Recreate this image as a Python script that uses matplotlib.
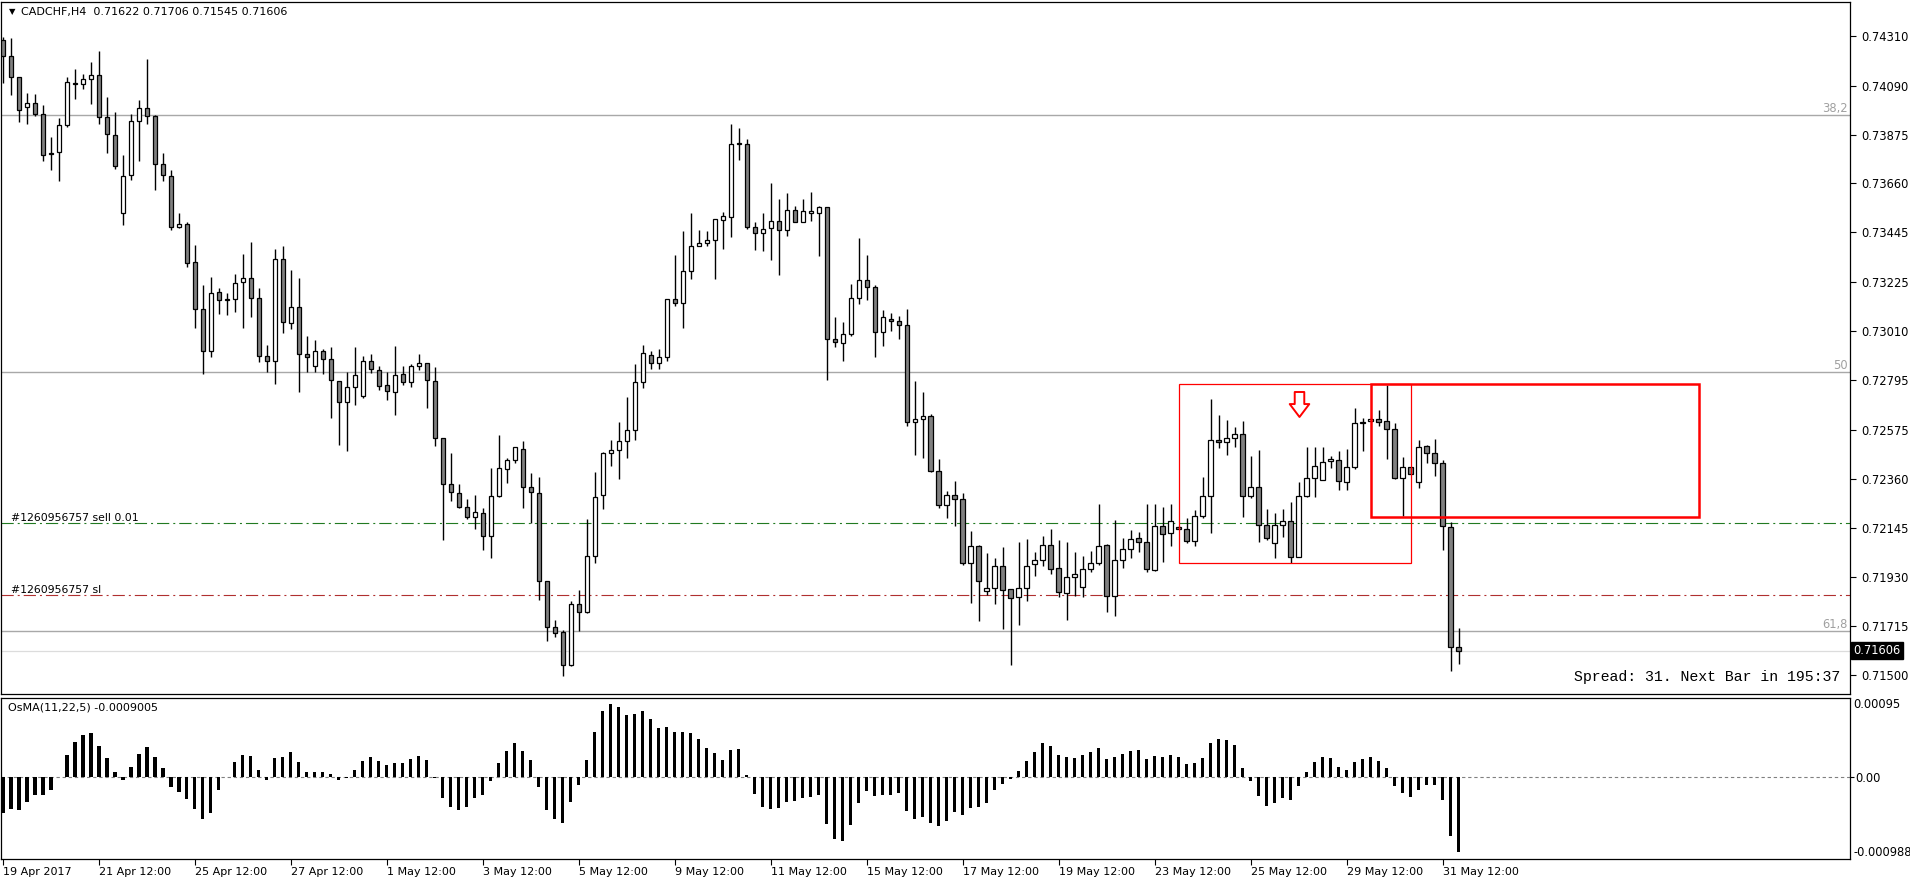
import matplotlib
matplotlib.use('Agg')
import matplotlib.pyplot as plt
import matplotlib.transforms as mtransforms
from matplotlib.path import Path
from matplotlib.patches import Rectangle
import numpy as np

# ---------------- data ----------------
header_symbol = "CADCHF,H4"
header_ohlc = "0.71622 0.71706 0.71545 0.71606"

opens = [0.74290, 0.74220, 0.74129, 0.73996, 0.74014, 0.73965, 0.73792, 0.73798, 0.73916, 0.74104,
         0.74098, 0.74118, 0.74135, 0.73951, 0.73875, 0.73528, 0.73698, 0.73934, 0.73990, 0.73957,
         0.73745, 0.73692, 0.73469, 0.73483, 0.73314, 0.73106, 0.72922, 0.73183, 0.73146, 0.73150,
         0.73228, 0.73246, 0.73157, 0.72901, 0.72881, 0.73326, 0.73048, 0.73118, 0.72908, 0.72859,
         0.72924, 0.72887, 0.72793, 0.72699, 0.72765, 0.72726, 0.72881, 0.72840, 0.72773, 0.72742,
         0.72822, 0.72789, 0.72859, 0.72871, 0.72793, 0.72540, 0.72338, 0.72297, 0.72236, 0.72195,
         0.72213, 0.72109, 0.72285, 0.72403, 0.72444, 0.72493, 0.72324, 0.72297, 0.71911, 0.71711,
         0.71687, 0.71542, 0.71809, 0.71776, 0.72024, 0.72291, 0.72473, 0.72487, 0.72526, 0.72575,
         0.72785, 0.72906, 0.72869, 0.72895, 0.73153, 0.73136, 0.73277, 0.73383, 0.73398, 0.73412,
         0.73500, 0.73514, 0.73836, 0.73834, 0.73469, 0.73443, 0.73465, 0.73494, 0.73455, 0.73543,
         0.73492, 0.73532, 0.73532, 0.73557, 0.72977, 0.72959, 0.72999, 0.73157, 0.73236, 0.73204,
         0.73008, 0.73065, 0.73057, 0.73038, 0.72609, 0.72624, 0.72638, 0.72397, 0.72244, 0.72289,
         0.72273, 0.71989, 0.72066, 0.71866, 0.71881, 0.71977, 0.71875, 0.71840, 0.71879, 0.71985,
         0.72005, 0.72070, 0.71968, 0.71858, 0.71928, 0.71885, 0.71964, 0.71989, 0.72070, 0.71844,
         0.72003, 0.72054, 0.72099, 0.72085, 0.71962, 0.72152, 0.72124, 0.72150, 0.72142, 0.72087,
         0.72199, 0.72287, 0.72532, 0.72522, 0.72542, 0.72558, 0.72287, 0.72326, 0.72156, 0.72077,
         0.72156, 0.72177, 0.72019, 0.72287, 0.72365, 0.72354, 0.72440, 0.72442, 0.72346, 0.72414,
         0.72605, 0.72617, 0.72626, 0.72616, 0.72581, 0.72365, 0.72414, 0.72346, 0.72505, 0.72473,
         0.72432, 0.72150, 0.71622]
highs = [0.74302, 0.74300, 0.74129, 0.74057, 0.74053, 0.74004, 0.73865, 0.73949, 0.74129, 0.74165,
         0.74141, 0.74194, 0.74243, 0.74039, 0.73975, 0.73783, 0.73967, 0.74028, 0.74206, 0.73961,
         0.73794, 0.73720, 0.73528, 0.73489, 0.73391, 0.73212, 0.73248, 0.73202, 0.73177, 0.73263,
         0.73349, 0.73404, 0.73202, 0.72950, 0.73373, 0.73387, 0.73281, 0.73244, 0.72989, 0.72973,
         0.72934, 0.72942, 0.72793, 0.72832, 0.72942, 0.72901, 0.72910, 0.72859, 0.72832, 0.72944,
         0.72859, 0.72865, 0.72908, 0.72871, 0.72852, 0.72542, 0.72473, 0.72338, 0.72271, 0.72291,
         0.72232, 0.72409, 0.72556, 0.72452, 0.72499, 0.72526, 0.72385, 0.72369, 0.71911, 0.71742,
         0.71697, 0.71825, 0.71872, 0.72185, 0.72391, 0.72479, 0.72530, 0.72610, 0.72720, 0.72865,
         0.72948, 0.72922, 0.72934, 0.73153, 0.73344, 0.73449, 0.73532, 0.73457, 0.73449, 0.73504,
         0.73536, 0.73922, 0.73906, 0.73855, 0.73492, 0.73528, 0.73663, 0.73592, 0.73616, 0.73559,
         0.73592, 0.73624, 0.73561, 0.73557, 0.73071, 0.73053, 0.73220, 0.73422, 0.73347, 0.73214,
         0.73102, 0.73091, 0.73079, 0.73106, 0.72791, 0.72744, 0.72648, 0.72448, 0.72307, 0.72352,
         0.72299, 0.72130, 0.72072, 0.72034, 0.72013, 0.72062, 0.71875, 0.72083, 0.72097, 0.72038,
         0.72111, 0.72140, 0.72091, 0.72083, 0.72040, 0.72022, 0.72046, 0.72250, 0.72073, 0.72179,
         0.72101, 0.72134, 0.72126, 0.72250, 0.72250, 0.72236, 0.72252, 0.72154, 0.72189, 0.72222,
         0.72371, 0.72714, 0.72644, 0.72620, 0.72591, 0.72614, 0.72460, 0.72487, 0.72228, 0.72211,
         0.72228, 0.72258, 0.72346, 0.72499, 0.72499, 0.72499, 0.72460, 0.72483, 0.72491, 0.72671,
         0.72630, 0.72628, 0.72663, 0.72773, 0.72605, 0.72456, 0.72414, 0.72534, 0.72511, 0.72538,
         0.72444, 0.72170, 0.71706]
lows = [0.74100, 0.74051, 0.73930, 0.73920, 0.73955, 0.73757, 0.73718, 0.73671, 0.73908, 0.74033,
        0.74077, 0.74008, 0.73920, 0.73792, 0.73722, 0.73477, 0.73675, 0.73757, 0.73920, 0.73630,
        0.73671, 0.73457, 0.73466, 0.73293, 0.73024, 0.72820, 0.72895, 0.73087, 0.73081, 0.73097,
        0.73026, 0.73071, 0.72875, 0.72830, 0.72777, 0.73003, 0.73020, 0.72742, 0.72830, 0.72830,
        0.72824, 0.72630, 0.72509, 0.72483, 0.72685, 0.72718, 0.72826, 0.72754, 0.72708, 0.72644,
        0.72775, 0.72763, 0.72840, 0.72671, 0.72507, 0.72091, 0.72264, 0.72234, 0.72183, 0.72140,
        0.72048, 0.72013, 0.72281, 0.72344, 0.72432, 0.72234, 0.72168, 0.71828, 0.71648, 0.71664,
        0.71495, 0.71538, 0.71691, 0.71772, 0.71989, 0.72230, 0.72418, 0.72360, 0.72454, 0.72530,
        0.72761, 0.72844, 0.72844, 0.72879, 0.73122, 0.73024, 0.73240, 0.73383, 0.73387, 0.73240,
        0.73371, 0.73424, 0.73763, 0.73459, 0.73369, 0.73363, 0.73324, 0.73257, 0.73428, 0.73489,
        0.73490, 0.73494, 0.73342, 0.72797, 0.72942, 0.72879, 0.72989, 0.73130, 0.73146, 0.72897,
        0.72946, 0.73012, 0.72977, 0.72595, 0.72467, 0.72454, 0.72393, 0.72234, 0.72191, 0.72154,
        0.71983, 0.71817, 0.71734, 0.71850, 0.71809, 0.71699, 0.71542, 0.71719, 0.71826, 0.71936,
        0.71977, 0.71942, 0.71840, 0.71742, 0.71844, 0.71840, 0.71950, 0.71983, 0.71776, 0.71756,
        0.71968, 0.72015, 0.72040, 0.71950, 0.71958, 0.71997, 0.72068, 0.72140, 0.72081, 0.72068,
        0.72189, 0.72124, 0.72497, 0.72467, 0.72503, 0.72193, 0.72275, 0.72085, 0.72091, 0.72011,
        0.72105, 0.71993, 0.72019, 0.72281, 0.72283, 0.72354, 0.72411, 0.72314, 0.72314, 0.72405,
        0.72483, 0.72615, 0.72595, 0.72450, 0.72360, 0.72199, 0.72381, 0.72320, 0.72430, 0.72373,
        0.72048, 0.71517, 0.71545]
closes = [0.74220, 0.74129, 0.73984, 0.74014, 0.73965, 0.73785, 0.73790, 0.73916, 0.74106, 0.74098,
          0.74118, 0.74139, 0.73951, 0.73877, 0.73737, 0.73692, 0.73934, 0.73990, 0.73957, 0.73745,
          0.73696, 0.73469, 0.73483, 0.73312, 0.73106, 0.72922, 0.73179, 0.73146, 0.73153, 0.73222,
          0.73246, 0.73157, 0.72903, 0.72881, 0.73326, 0.73053, 0.73118, 0.72908, 0.72899, 0.72924,
          0.72887, 0.72795, 0.72699, 0.72765, 0.72818, 0.72881, 0.72842, 0.72771, 0.72746, 0.72816,
          0.72785, 0.72859, 0.72871, 0.72795, 0.72540, 0.72338, 0.72303, 0.72236, 0.72195, 0.72215,
          0.72109, 0.72285, 0.72411, 0.72444, 0.72499, 0.72324, 0.72303, 0.71911, 0.71711, 0.71683,
          0.71542, 0.71809, 0.71776, 0.72024, 0.72281, 0.72473, 0.72487, 0.72526, 0.72575, 0.72785,
          0.72916, 0.72869, 0.72895, 0.73153, 0.73136, 0.73277, 0.73387, 0.73398, 0.73412, 0.73504,
          0.73516, 0.73834, 0.73834, 0.73469, 0.73443, 0.73459, 0.73494, 0.73455, 0.73543, 0.73492,
          0.73540, 0.73540, 0.73557, 0.72977, 0.72963, 0.72999, 0.73157, 0.73236, 0.73204, 0.73008,
          0.73073, 0.73057, 0.73038, 0.72609, 0.72626, 0.72638, 0.72397, 0.72244, 0.72289, 0.72273,
          0.71989, 0.72066, 0.71911, 0.71881, 0.71977, 0.71872, 0.71836, 0.71879, 0.71977, 0.72005,
          0.72070, 0.71964, 0.71862, 0.71928, 0.71942, 0.71964, 0.71989, 0.72066, 0.71844, 0.72003,
          0.72054, 0.72095, 0.72085, 0.71964, 0.72152, 0.72120, 0.72175, 0.72142, 0.72087, 0.72199,
          0.72287, 0.72532, 0.72522, 0.72542, 0.72558, 0.72287, 0.72326, 0.72158, 0.72099, 0.72156,
          0.72177, 0.72019, 0.72287, 0.72365, 0.72418, 0.72436, 0.72450, 0.72350, 0.72414, 0.72605,
          0.72610, 0.72624, 0.72612, 0.72581, 0.72365, 0.72414, 0.72381, 0.72503, 0.72473, 0.72432,
          0.72154, 0.71620, 0.71606]

# OsMA(11,22,5) histogram, in millionths
osma_e6 = [-432, -384, -400, -304, -220, -220, -156, 2, 256, 412,
           500, 524, 364, 220, 56, -36, 112, 268, 352, 232,
           100, -124, -180, -268, -388, -508, -440, -160, -3, 172,
           256, 244, 76, -36, 220, 232, 292, 176, 56, 56,
           56, 28, -36, -16, 76, 184, 232, 184, 136, 160,
           160, 208, 244, 196, -16, -256, -364, -400, -364, -256,
           -220, -52, 160, 304, 400, 304, 196, -124, -400, -508,
           -556, -304, -100, 196, 532, 784, 868, 832, 736, 748,
           784, 688, 580, 592, 532, 532, 520, 448, 340, 280,
           196, 316, 328, 16, -208, -364, -388, -376, -304, -292,
           -256, -244, -220, -568, -748, -772, -580, -316, -172, -232,
           -220, -220, -196, -412, -508, -484, -556, -592, -532, -424,
           -460, -376, -364, -316, -160, -88, -28, 64, 184, 292,
           400, 364, 256, 232, 220, 256, 292, 340, 208, 232,
           268, 304, 316, 208, 244, 232, 256, 232, 148, 160,
           220, 400, 448, 436, 376, 100, -52, -232, -352, -316,
           -256, -280, -112, 52, 172, 232, 220, 112, 76, 172,
           208, 232, 184, 100, -112, -196, -244, -160, -100, -100,
           -280, -712, -900]
osma_last = "-0.0009005"
osma_max_label = "0.00095"
osma_min_label = "-0.000988"

time_label_bars = [0, 12, 24, 36, 48, 60, 72, 84, 96, 108, 120, 132, 144, 156, 168, 180]
time_labels = ["19 Apr 2017", "21 Apr 12:00", "25 Apr 12:00", "27 Apr 12:00", "1 May 12:00",
               "3 May 12:00", "5 May 12:00", "9 May 12:00", "11 May 12:00", "15 May 12:00",
               "17 May 12:00", "19 May 12:00", "23 May 12:00", "25 May 12:00", "29 May 12:00",
               "31 May 12:00"]

price_ticks = [0.74310, 0.74090, 0.73875, 0.73660, 0.73445, 0.73225, 0.73010, 0.72795,
               0.72575, 0.72360, 0.72145, 0.71930, 0.71715, 0.71500]

fib_levels = [0.73961, 0.72830, 0.71691]
fib_names = ["38,2", "50", "61,8"]
sell_price = 0.72166
sl_price = 0.71852
bid_price = 0.71606
ticket = "#1260956757"
spread_text = "Spread: 31. Next Bar in 195:37"

box1 = dict(x0=147.0, x1=176.0, y0=0.71989, y1=0.72777)
box2 = dict(x0=171.0, x1=212.0, y0=0.72195, y1=0.72779)
arrow_bar, arrow_price = 162, 0.72692

# ---------------- figure ----------------
W, H = 1910, 884
fig = plt.figure(figsize=(W / 100, H / 100), dpi=100)
fig.patch.set_facecolor('white')


def axrect(x0, y0, x1, y1):
    return [x0 / W, 1 - y1 / H, (x1 - x0) / W, (y1 - y0) / H]


ax = fig.add_axes(axrect(1, 2, 1850, 694))
ax2 = fig.add_axes(axrect(1, 697.5, 1850, 859))

n = len(opens)
x = np.arange(n)
o = np.array(opens); h = np.array(highs); l = np.array(lows); c = np.array(closes)

XL = (-0.25, 230.9)
for a in (ax, ax2):
    a.set_xlim(*XL)
    for s in a.spines.values():
        s.set_color('black')
        s.set_linewidth(0.9)

ax.set_ylim(0.71415, 0.74458)

# level lines
for lvl, nm in zip(fib_levels, fib_names):
    ax.axhline(lvl, color='#a8a8a8', lw=1.0, zorder=1)
    ax.text(0.99892, lvl, nm, transform=mtransforms.blended_transform_factory(ax.transAxes, ax.transData),
            ha='right', va='bottom', fontsize=8.3, color='#a0a0a0', family='DejaVu Sans')
ax.axhline(bid_price, color='#dcdcdc', lw=0.9, zorder=1)

dashdot = (0, (11, 3.6, 1.8, 3.6))
ax.axhline(sell_price, color='#217a21', lw=0.8, ls=dashdot, zorder=1)
ax.axhline(sl_price, color='#b03030', lw=0.8, ls=dashdot, zorder=1)
bt = mtransforms.blended_transform_factory(ax.transAxes, ax.transData)
ax.annotate(ticket + " sell 0.01", xy=(0, sell_price), xycoords=bt, xytext=(10, 0),
            textcoords='offset pixels', ha='left', va='bottom', fontsize=7.8, color='black')
ax.annotate(ticket + " sl", xy=(0, sl_price), xycoords=bt, xytext=(10, 0),
            textcoords='offset pixels', ha='left', va='bottom', fontsize=7.8, color='black')

# candles
ax.vlines(x, l, h, color='black', lw=1.0, zorder=2)
body_bot = np.minimum(o, c)
body_h = np.abs(c - o)
fills = ['#808080' if cc < oo else 'white' for oo, cc in zip(o, c)]
ax.bar(x, body_h, bottom=body_bot, width=0.6, color=fills, edgecolor='black',
       linewidth=0.9, zorder=3)

# rectangles and arrow
ax.add_patch(Rectangle((box1['x0'], box1['y0']), box1['x1'] - box1['x0'], box1['y1'] - box1['y0'],
                       fill=False, ec='#ff0000', lw=0.9, zorder=4))
ax.add_patch(Rectangle((box2['x0'], box2['y0']), box2['x1'] - box2['x0'], box2['y1'] - box2['y0'],
                       fill=False, ec='#ff0000', lw=1.8, zorder=4))
arrow_path = Path([(-0.22, 0.575), (0.22, 0.575), (0.22, 0.02), (0.45, 0.02), (0.0, -0.575),
                   (-0.45, 0.02), (-0.22, 0.02), (-0.22, 0.575)],
                  [Path.MOVETO] + [Path.LINETO] * 6 + [Path.CLOSEPOLY])
ax.plot([arrow_bar], [arrow_price], marker=arrow_path, markersize=18, mfc='white',
        mec='#ff0000', mew=1.4, ls='none', zorder=5)

# right price axis
ax.yaxis.tick_right()
ax.set_yticks(price_ticks)
ax.set_yticklabels(["%.5f" % p for p in price_ticks])
ax.tick_params(axis='y', direction='out', length=4, width=0.8, pad=4, labelsize=8.3,
               colors='black')
ax.set_xticks([])

ax.text(1.0 + 3 / 1849, bid_price, "0.71606", transform=bt, ha='left', va='center',
        fontsize=8.3, color='white',
        bbox=dict(boxstyle='square,pad=0.2', fc='black', ec='black'))

ax.text(0.99459, 0.0148, spread_text, transform=ax.transAxes, ha='right', va='bottom',
        fontsize=10.7, family='Liberation Mono', color='black')

# header
fig.text(9 / W, 1 - 11.5 / H, "\u25BC", fontsize=6, ha='left', va='center', color='black')
fig.text(21 / W, 1 - 11.5 / H, header_symbol + "  " + header_ohlc, fontsize=8, ha='left',
         va='center', color='black')

# OsMA panel
osma = np.array(osma_e6) * 1e-6
ax2.set_ylim(-0.000988, 0.00095)
ax2.axhline(0, color='#808080', lw=0.8, ls=(0, (3, 2.5)), zorder=1)
ax2.bar(x, osma, width=0.38, color='black', linewidth=0, zorder=2)
ax2.text(7 / 1849, 0.941, "OsMA(11,22,5) " + osma_last, transform=ax2.transAxes, ha='left',
         va='center', fontsize=8, color='black')
ax2.yaxis.tick_right()
ax2.set_yticks([0])
ax2.set_yticklabels(["0.00"])
ax2.tick_params(axis='y', direction='out', length=3, width=0.8, pad=1, labelsize=8.3)
ax2.text(1.0 + 3 / 1849, 0.957, osma_max_label, transform=ax2.transAxes, ha='left', va='center',
         fontsize=8.3, color='black')
ax2.text(1.0 + 3 / 1849, 0.04, osma_min_label, transform=ax2.transAxes, ha='left', va='center',
         fontsize=8.3, color='black')

ax2.set_xticks(time_label_bars)
ax2.set_xticklabels(time_labels)
ax2.tick_params(axis='x', direction='out', length=4, width=0.8, pad=2, labelsize=8)
for t in ax2.get_xticklabels():
    t.set_ha('left')

fig.savefig('out.png', dpi=100)
